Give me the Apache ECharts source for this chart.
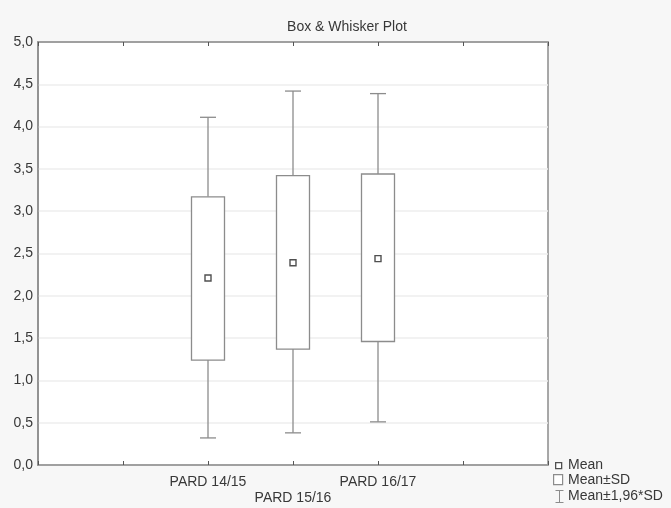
<!DOCTYPE html>
<html>
<head>
<meta charset="utf-8">
<script src="https://cdn.jsdelivr.net/npm/echarts@6/dist/echarts.min.js"></script>
<style>
  html, body { margin: 0; padding: 0; background: #f7f7f7; }
  #chart { width: 671px; height: 508px; }
</style>
</head>
<body>
<div id="chart"></div>
<script>
// Groups and their summary statistics
var categories = ['PARD 14/15', 'PARD 15/16', 'PARD 16/17'];
var means      = [2.21, 2.39, 2.44];
var sdLow      = [1.24, 1.37, 1.46];   // Mean - SD
var sdHigh     = [3.17, 3.42, 3.44];   // Mean + SD
var ciLow      = [0.32, 0.38, 0.51];   // Mean - 1.96*SD
var ciHigh     = [4.11, 4.42, 4.39];   // Mean + 1.96*SD
var yTicks     = ['0,0','0,5','1,0','1,5','2,0','2,5','3,0','3,5','4,0','4,5','5,0'];

// Two empty slots on each side so the groups sit in the middle of the axis
var pad = 2;
var slots = ['', ''].concat(categories, ['', '']);

var data = categories.map(function (c, i) {
  return [i + pad, ciLow[i], sdLow[i], means[i], sdHigh[i], ciHigh[i]];
});

var lineCol = '#8c8c8c';
var textCol = '#383838';
var font = 'Liberation Sans, Arial, sans-serif';

function renderItem(params, api) {
  var x = api.value(0);
  var pLo = api.coord([x, api.value(1)]);
  var pBl = api.coord([x, api.value(2)]);
  var pM  = api.coord([x, api.value(3)]);
  var pBh = api.coord([x, api.value(4)]);
  var pHi = api.coord([x, api.value(5)]);
  var boxW = 33, capW = 16, mk = 6;
  var cx = pM[0];
  var ls = { stroke: lineCol, lineWidth: 1.3, fill: null };
  return {
    type: 'group',
    children: [
      { type: 'line', shape: { x1: cx, y1: pHi[1], x2: cx, y2: pBh[1] }, style: ls },
      { type: 'line', shape: { x1: cx, y1: pBl[1], x2: cx, y2: pLo[1] }, style: ls },
      { type: 'line', shape: { x1: cx - capW / 2, y1: pHi[1], x2: cx + capW / 2, y2: pHi[1] }, style: ls },
      { type: 'line', shape: { x1: cx - capW / 2, y1: pLo[1], x2: cx + capW / 2, y2: pLo[1] }, style: ls },
      { type: 'rect', shape: { x: cx - boxW / 2, y: pBh[1], width: boxW, height: pBl[1] - pBh[1] },
        style: { stroke: lineCol, lineWidth: 1.3, fill: '#ffffff' } },
      { type: 'rect', shape: { x: cx - mk / 2, y: pM[1] - mk / 2, width: mk, height: mk },
        style: { stroke: '#505050', lineWidth: 1.4, fill: '#ffffff' } }
    ]
  };
}

var chart = echarts.init(document.getElementById('chart'));
chart.setOption({
  backgroundColor: '#f7f7f7',
  animation: false,
  title: {
    text: 'Box & Whisker Plot',
    left: 342, top: 15, textAlign: 'center',
    textStyle: { fontFamily: font, fontSize: 14, fontWeight: 'normal', color: textCol }
  },
  grid: {
    left: 38, right: 123, top: 42, bottom: 43,
    show: true, backgroundColor: '#ffffff', borderColor: lineCol, borderWidth: 1.5
  },
  xAxis: [{
    type: 'category', data: slots, boundaryGap: false, position: 'bottom',
    axisLine: { lineStyle: { color: lineCol, width: 1.5 } },
    axisTick: { show: true, inside: true, length: 4, interval: 0, lineStyle: { color: '#555' } },
    axisLabel: {
      interval: 0, margin: 9, lineHeight: 16,
      fontFamily: font, fontSize: 14, color: textCol,
      formatter: function (v, i) { return i === pad + 1 ? '\n' + v : v; }
    },
    splitLine: { show: false }
  }, {
    type: 'category', data: slots, boundaryGap: false, position: 'top',
    axisLine: { lineStyle: { color: lineCol, width: 1.5 } },
    axisTick: { show: true, inside: true, length: 4, interval: 0, lineStyle: { color: '#555' } },
    axisLabel: { show: false },
    splitLine: { show: false }
  }],
  yAxis: {
    type: 'value', min: 0, max: 5, interval: 0.5,
    axisLine: { show: true, lineStyle: { color: lineCol, width: 1.5 } },
    axisTick: { show: false },
    axisLabel: {
      margin: 5, fontFamily: font, fontSize: 14, color: textCol,
      formatter: function (v) { return yTicks[Math.round(v * 2)]; }
    },
    splitLine: { show: true, lineStyle: { color: '#eeeeee', width: 1.5 } }
  },
  series: [{
    type: 'custom',
    renderItem: renderItem,
    encode: { x: 0, y: [1, 2, 3, 4, 5] },
    data: data,
    z: 10
  }],
  graphic: [
    { type: 'rect', left: 555, top: 462, shape: { width: 6, height: 6 },
      style: { stroke: '#505050', lineWidth: 1.3, fill: '#ffffff' } },
    { type: 'text', left: 568, top: 458, style: { text: 'Mean', font: '14px ' + font, fill: textCol } },
    { type: 'rect', left: 553, top: 474, shape: { width: 9, height: 10 },
      style: { stroke: lineCol, lineWidth: 1.2, fill: '#ffffff' } },
    { type: 'text', left: 568, top: 473, style: { text: 'Mean±SD', font: '14px ' + font, fill: textCol } },
    { type: 'group', left: 553, top: 488, children: [
      { type: 'line', shape: { x1: 0, y1: 0.5, x2: 8, y2: 0.5 }, style: { stroke: lineCol, lineWidth: 1 } },
      { type: 'line', shape: { x1: 4, y1: 0.5, x2: 4, y2: 12.5 }, style: { stroke: lineCol, lineWidth: 1 } },
      { type: 'line', shape: { x1: 0, y1: 12.5, x2: 8, y2: 12.5 }, style: { stroke: lineCol, lineWidth: 1 } }
    ] },
    { type: 'text', left: 568, top: 489, style: { text: 'Mean±1,96*SD', font: '14px ' + font, fill: textCol } }
  ]
});
</script>
</body>
</html>
